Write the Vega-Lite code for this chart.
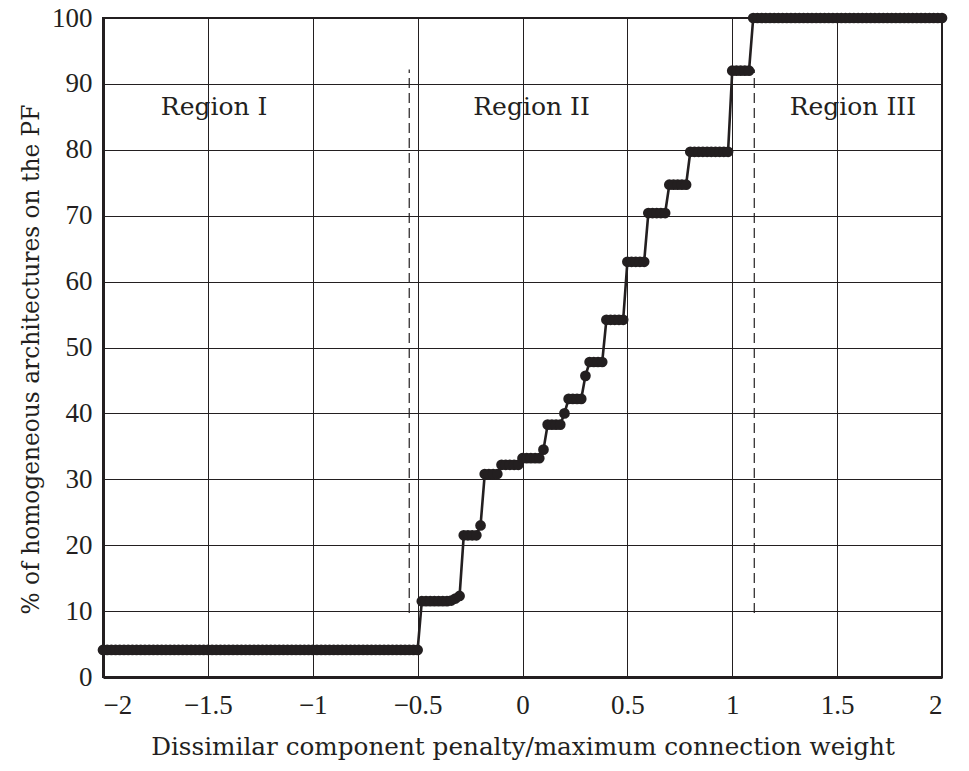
{
  "$schema": "https://vega.github.io/schema/vega-lite/v6.json",
  "autosize": "none",
  "width": 839,
  "height": 659,
  "padding": {"left": 103, "top": 18, "right": 27, "bottom": 94},
  "background": "white",
  "config": {
    "font": "DejaVu Serif",
    "view": {"stroke": "#231f20", "strokeWidth": 2},
    "axis": {
      "grid": true,
      "gridColor": "#231f20",
      "gridOpacity": 1,
      "gridWidth": 1,
      "domainColor": "#231f20",
      "domainWidth": 3,
      "ticks": false,
      "labelColor": "#231f20",
      "labelFont": "Liberation Serif",
      "labelFontSize": 27,
      "titleColor": "#231f20",
      "titleFont": "DejaVu Serif",
      "titleFontSize": 24.7,
      "titleFontWeight": "normal"
    }
  },
  "datasets": {
    "pf": [
      {"x": -2.00, "y": 4.1}, {"x": -1.98, "y": 4.1}, {"x": -1.96, "y": 4.1}, {"x": -1.94, "y": 4.1}, {"x": -1.92, "y": 4.1},
      {"x": -1.90, "y": 4.1}, {"x": -1.88, "y": 4.1}, {"x": -1.86, "y": 4.1}, {"x": -1.84, "y": 4.1}, {"x": -1.82, "y": 4.1},
      {"x": -1.80, "y": 4.1}, {"x": -1.78, "y": 4.1}, {"x": -1.76, "y": 4.1}, {"x": -1.74, "y": 4.1}, {"x": -1.72, "y": 4.1},
      {"x": -1.70, "y": 4.1}, {"x": -1.68, "y": 4.1}, {"x": -1.66, "y": 4.1}, {"x": -1.64, "y": 4.1}, {"x": -1.62, "y": 4.1},
      {"x": -1.60, "y": 4.1}, {"x": -1.58, "y": 4.1}, {"x": -1.56, "y": 4.1}, {"x": -1.54, "y": 4.1}, {"x": -1.52, "y": 4.1},
      {"x": -1.50, "y": 4.1}, {"x": -1.48, "y": 4.1}, {"x": -1.46, "y": 4.1}, {"x": -1.44, "y": 4.1}, {"x": -1.42, "y": 4.1},
      {"x": -1.40, "y": 4.1}, {"x": -1.38, "y": 4.1}, {"x": -1.36, "y": 4.1}, {"x": -1.34, "y": 4.1}, {"x": -1.32, "y": 4.1},
      {"x": -1.30, "y": 4.1}, {"x": -1.28, "y": 4.1}, {"x": -1.26, "y": 4.1}, {"x": -1.24, "y": 4.1}, {"x": -1.22, "y": 4.1},
      {"x": -1.20, "y": 4.1}, {"x": -1.18, "y": 4.1}, {"x": -1.16, "y": 4.1}, {"x": -1.14, "y": 4.1}, {"x": -1.12, "y": 4.1},
      {"x": -1.10, "y": 4.1}, {"x": -1.08, "y": 4.1}, {"x": -1.06, "y": 4.1}, {"x": -1.04, "y": 4.1}, {"x": -1.02, "y": 4.1},
      {"x": -1.00, "y": 4.1}, {"x": -0.98, "y": 4.1}, {"x": -0.96, "y": 4.1}, {"x": -0.94, "y": 4.1}, {"x": -0.92, "y": 4.1},
      {"x": -0.90, "y": 4.1}, {"x": -0.88, "y": 4.1}, {"x": -0.86, "y": 4.1}, {"x": -0.84, "y": 4.1}, {"x": -0.82, "y": 4.1},
      {"x": -0.80, "y": 4.1}, {"x": -0.78, "y": 4.1}, {"x": -0.76, "y": 4.1}, {"x": -0.74, "y": 4.1}, {"x": -0.72, "y": 4.1},
      {"x": -0.70, "y": 4.1}, {"x": -0.68, "y": 4.1}, {"x": -0.66, "y": 4.1}, {"x": -0.64, "y": 4.1}, {"x": -0.62, "y": 4.1},
      {"x": -0.60, "y": 4.1}, {"x": -0.58, "y": 4.1}, {"x": -0.56, "y": 4.1}, {"x": -0.54, "y": 4.1}, {"x": -0.52, "y": 4.1},
      {"x": -0.50, "y": 4.1},
      {"x": -0.48, "y": 11.5}, {"x": -0.46, "y": 11.5}, {"x": -0.44, "y": 11.5}, {"x": -0.42, "y": 11.5}, {"x": -0.40, "y": 11.5},
      {"x": -0.38, "y": 11.5}, {"x": -0.36, "y": 11.5}, {"x": -0.34, "y": 11.6}, {"x": -0.32, "y": 11.9}, {"x": -0.30, "y": 12.3},
      {"x": -0.28, "y": 21.5}, {"x": -0.26, "y": 21.5}, {"x": -0.24, "y": 21.5}, {"x": -0.22, "y": 21.5},
      {"x": -0.20, "y": 23.0},
      {"x": -0.18, "y": 30.8}, {"x": -0.16, "y": 30.8}, {"x": -0.14, "y": 30.8}, {"x": -0.12, "y": 30.8},
      {"x": -0.10, "y": 32.2}, {"x": -0.08, "y": 32.2}, {"x": -0.06, "y": 32.2}, {"x": -0.04, "y": 32.2}, {"x": -0.02, "y": 32.2},
      {"x": 0.00, "y": 33.2}, {"x": 0.02, "y": 33.2}, {"x": 0.04, "y": 33.2}, {"x": 0.06, "y": 33.2}, {"x": 0.08, "y": 33.2},
      {"x": 0.10, "y": 34.5},
      {"x": 0.12, "y": 38.3}, {"x": 0.14, "y": 38.3}, {"x": 0.16, "y": 38.3}, {"x": 0.18, "y": 38.3},
      {"x": 0.20, "y": 40.0},
      {"x": 0.22, "y": 42.2}, {"x": 0.24, "y": 42.2}, {"x": 0.26, "y": 42.2}, {"x": 0.28, "y": 42.2},
      {"x": 0.30, "y": 45.7},
      {"x": 0.32, "y": 47.8}, {"x": 0.34, "y": 47.8}, {"x": 0.36, "y": 47.8}, {"x": 0.38, "y": 47.8},
      {"x": 0.40, "y": 54.2}, {"x": 0.42, "y": 54.2}, {"x": 0.44, "y": 54.2}, {"x": 0.46, "y": 54.2}, {"x": 0.48, "y": 54.2},
      {"x": 0.50, "y": 63.0}, {"x": 0.52, "y": 63.0}, {"x": 0.54, "y": 63.0}, {"x": 0.56, "y": 63.0}, {"x": 0.58, "y": 63.0},
      {"x": 0.60, "y": 70.4}, {"x": 0.62, "y": 70.4}, {"x": 0.64, "y": 70.4}, {"x": 0.66, "y": 70.4}, {"x": 0.68, "y": 70.4},
      {"x": 0.70, "y": 74.7}, {"x": 0.72, "y": 74.7}, {"x": 0.74, "y": 74.7}, {"x": 0.76, "y": 74.7}, {"x": 0.78, "y": 74.7},
      {"x": 0.80, "y": 79.7}, {"x": 0.82, "y": 79.7}, {"x": 0.84, "y": 79.7}, {"x": 0.86, "y": 79.7}, {"x": 0.88, "y": 79.7},
      {"x": 0.90, "y": 79.7}, {"x": 0.92, "y": 79.7}, {"x": 0.94, "y": 79.7}, {"x": 0.96, "y": 79.7}, {"x": 0.98, "y": 79.7},
      {"x": 1.00, "y": 92.0}, {"x": 1.02, "y": 92.0}, {"x": 1.04, "y": 92.0}, {"x": 1.06, "y": 92.0}, {"x": 1.08, "y": 92.0},
      {"x": 1.10, "y": 100}, {"x": 1.12, "y": 100}, {"x": 1.14, "y": 100}, {"x": 1.16, "y": 100}, {"x": 1.18, "y": 100},
      {"x": 1.20, "y": 100}, {"x": 1.22, "y": 100}, {"x": 1.24, "y": 100}, {"x": 1.26, "y": 100}, {"x": 1.28, "y": 100},
      {"x": 1.30, "y": 100}, {"x": 1.32, "y": 100}, {"x": 1.34, "y": 100}, {"x": 1.36, "y": 100}, {"x": 1.38, "y": 100},
      {"x": 1.40, "y": 100}, {"x": 1.42, "y": 100}, {"x": 1.44, "y": 100}, {"x": 1.46, "y": 100}, {"x": 1.48, "y": 100},
      {"x": 1.50, "y": 100}, {"x": 1.52, "y": 100}, {"x": 1.54, "y": 100}, {"x": 1.56, "y": 100}, {"x": 1.58, "y": 100},
      {"x": 1.60, "y": 100}, {"x": 1.62, "y": 100}, {"x": 1.64, "y": 100}, {"x": 1.66, "y": 100}, {"x": 1.68, "y": 100},
      {"x": 1.70, "y": 100}, {"x": 1.72, "y": 100}, {"x": 1.74, "y": 100}, {"x": 1.76, "y": 100}, {"x": 1.78, "y": 100},
      {"x": 1.80, "y": 100}, {"x": 1.82, "y": 100}, {"x": 1.84, "y": 100}, {"x": 1.86, "y": 100}, {"x": 1.88, "y": 100},
      {"x": 1.90, "y": 100}, {"x": 1.92, "y": 100}, {"x": 1.94, "y": 100}, {"x": 1.96, "y": 100}, {"x": 1.98, "y": 100},
      {"x": 2.00, "y": 100}
    ],
    "bounds": [
      {"x": -0.54, "y": 9.7, "y2": 92.2},
      {"x": 1.105, "y": 9.7, "y2": 92.2}
    ],
    "regions": [
      {"x": -1.47, "y": 85.3, "label": "Region I"},
      {"x": 0.043, "y": 85.3, "label": "Region II"},
      {"x": 1.575, "y": 85.3, "label": "Region III"}
    ]
  },
  "layer": [
    {
      "data": {"name": "bounds"},
      "mark": {"type": "rule", "color": "#231f20", "strokeWidth": 1.2, "strokeDash": [10, 5]},
      "encoding": {
        "x": {"field": "x", "type": "quantitative"},
        "y": {"field": "y", "type": "quantitative"},
        "y2": {"field": "y2"}
      }
    },
    {
      "data": {"name": "regions"},
      "mark": {"type": "text", "font": "DejaVu Serif", "fontSize": 25, "color": "#231f20", "align": "center", "baseline": "alphabetic"},
      "encoding": {
        "x": {"field": "x", "type": "quantitative"},
        "y": {"field": "y", "type": "quantitative"},
        "text": {"field": "label"}
      }
    },
    {
      "data": {"name": "pf"},
      "mark": {"type": "line", "color": "#231f20", "strokeWidth": 2.6},
      "encoding": {
        "x": {
          "field": "x",
          "type": "quantitative",
          "title": "Dissimilar component penalty/maximum connection weight",
          "scale": {"domain": [-2, 2], "nice": false, "zero": false},
          "axis": {
            "values": [-2, -1.5, -1, -0.5, 0, 0.5, 1, 1.5, 2],
            "format": "~g",
            "labelPadding": 15,
            "titleBaseline": "alphabetic",
            "titleY": 77
          }
        },
        "y": {
          "field": "y",
          "type": "quantitative",
          "title": "% of homogeneous architectures on the PF",
          "scale": {"domain": [0, 100], "nice": false},
          "axis": {
            "values": [0, 10, 20, 30, 40, 50, 60, 70, 80, 90, 100],
            "format": "d",
            "labelPadding": 11,
            "titleFontSize": 23.3,
            "titleAngle": -90,
            "titleAlign": "center",
            "titleBaseline": "alphabetic",
            "titleX": -65,
            "titleY": 341
          }
        }
      }
    },
    {
      "data": {"name": "pf"},
      "mark": {"type": "circle", "color": "#231f20", "opacity": 1, "size": 115},
      "encoding": {
        "x": {"field": "x", "type": "quantitative"},
        "y": {"field": "y", "type": "quantitative"}
      }
    }
  ]
}
